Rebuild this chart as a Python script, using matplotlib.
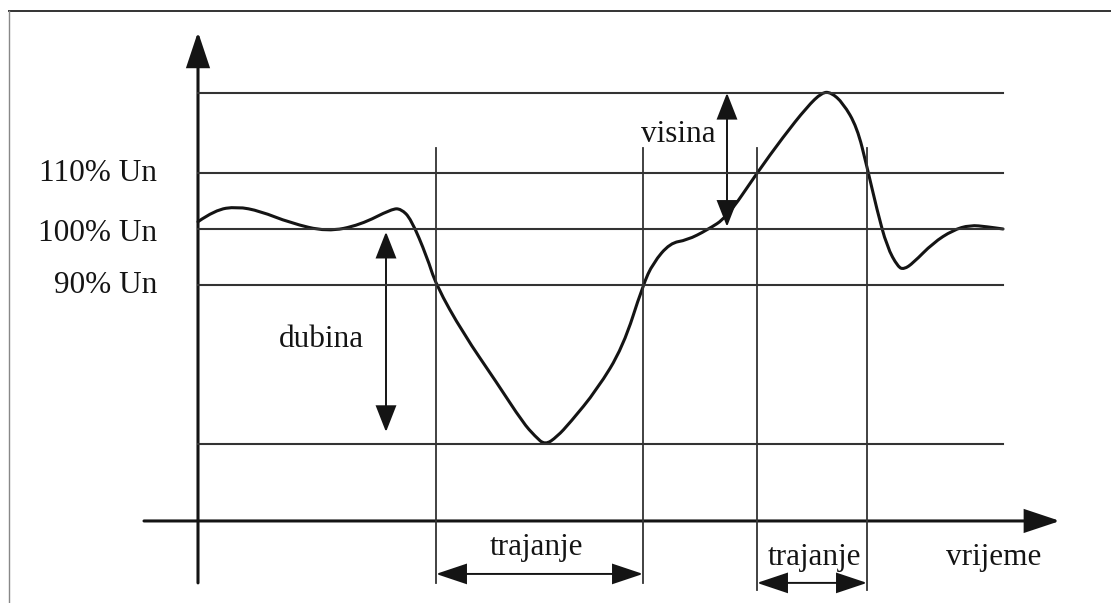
import matplotlib
matplotlib.use("Agg")
import matplotlib.pyplot as plt
from matplotlib.patches import FancyArrowPatch, PathPatch, ArrowStyle
from matplotlib.path import Path

# --- data: time in arbitrary units, voltage in % of Un ---
curve_t = [0.0, 1.7, 3.9, 6.2, 9.2, 12.9, 16.2, 19.4, 20.3, 21.3, 22.9, 23.8,
           26.5, 29.9, 32.5, 33.7, 34.7, 35.9, 37.2, 39.9, 42.5, 44.5,
           45.5, 47.2, 48.9, 50.9, 52.9, 55.9, 58.5, 60.9, 62.4, 63.3, 64.5,
           65.9, 66.9, 67.9, 68.9, 70.0, 70.6, 71.5, 73.5, 75.5, 77.2, 78.9, 80.5]
curve_v = [101.3, 103.4, 104.0, 103.2, 101.1, 99.5, 100.7, 103.6, 103.6, 101.8,
           95.0, 90.0, 81.4, 72.5, 65.4, 63.0, 61.4, 62.9, 65.4, 71.3,
           78.9, 90.0, 93.9, 97.5, 98.0, 99.8, 102.1, 110.0, 116.4, 121.8,
           124.4, 124.4, 122.5, 118.2, 111.1, 103.4, 96.8, 93.2, 92.8, 93.9,
           97.5, 99.8, 100.7, 100.4, 100.0]

level_v = [124.3, 110.0, 100.0, 90.0, 61.6]
level_labels = ["110% Un", "100% Un", "90% Un"]
label_v = [108.6, 97.9, 88.6]
sag_t = [23.8, 44.5]
swell_t = [55.9, 66.9]
depth = (18.8, 99.5, 63.75)    # t, from v, to v
height = (52.9, 124.3, 100.4)
t_end = 80.5

INK = "#141414"
FONT = dict(family="Liberation Serif", size=22.5, color=INK)

fig = plt.figure(figsize=(11.11, 6.03), dpi=100)
ax = fig.add_axes([0, 0, 1, 1])
ax.set_xlim(-19.8, 91.3)
ax.set_ylim(33.21, 140.89)
ax.axis("off")

# frame (top and left edges only visible)
ax.plot([-18.9, 91.3], [138.9, 138.9], color="#333", lw=1.4)
ax.plot([-18.9, -18.9], [33.21, 138.9], color="#888", lw=1.0)

# horizontal level lines
for v in level_v:
    ax.plot([0, t_end], [v, v], color="#333", lw=1.5)

# vertical duration lines
for t in sag_t:
    ax.plot([t, t], [114.5, 36.8], color="#333", lw=1.3)
for t in swell_t:
    ax.plot([t, t], [114.5, 35.6], color="#333", lw=1.3)


def arrow(p0, p1, style, hl, hw, lw):
    a = FancyArrowPatch(p0, p1, arrowstyle=ArrowStyle(style, head_length=hl, head_width=hw),
                        mutation_scale=1, shrinkA=0, shrinkB=0, color=INK, lw=lw,
                        joinstyle="miter")
    ax.add_patch(a)


# axes with arrows
arrow((0, 36.8), (0, 135.2), "-|>", 21.6, 7.2, 2.2)
arrow((-5.4, 47.86), (86.2, 47.86), "-|>", 21.6, 7.2, 2.2)

# depth / height arrows
arrow((depth[0], depth[1]), (depth[0], depth[2]), "<|-|>", 16.6, 6.5, 1.4)
arrow((height[0], height[1]), (height[0], height[2]), "<|-|>", 16.6, 6.5, 1.4)

# duration arrows
arrow((sag_t[0], 38.4), (sag_t[1], 38.4), "<|-|>", 19.4, 6.5, 1.4)
arrow((swell_t[0], 36.8), (swell_t[1], 36.8), "<|-|>", 19.4, 6.5, 1.4)

# smooth curve: quadratic B-spline through the read points
pts = list(zip(curve_t, curve_v))
verts = [pts[0]]
codes = [Path.MOVETO]
for i in range(1, len(pts) - 1):
    mid = ((pts[i][0] + pts[i + 1][0]) / 2, (pts[i][1] + pts[i + 1][1]) / 2)
    verts += [pts[i], mid]
    codes += [Path.CURVE3, Path.CURVE3]
verts.append(pts[-1])
codes.append(Path.LINETO)
ax.add_patch(PathPatch(Path(verts, codes), fill=False, lw=2.2, edgecolor=INK,
                       capstyle="round", joinstyle="round"))

# texts
for lab, v in zip(level_labels, label_v):
    ax.text(-4.1, v, lab, ha="right", va="baseline", **FONT)
ax.text(12.3, 78.9, "dubina", ha="center", va="baseline", **FONT)
ax.text(48.0, 115.5, "visina", ha="center", va="baseline", **FONT)
ax.text(33.9, 41.8, "trajanje", ha="center", va="baseline", **FONT)
ax.text(61.7, 40.0, "trajanje", ha="center", va="baseline", **FONT)
ax.text(79.6, 40.0, "vrijeme", ha="center", va="baseline", **FONT)

fig.savefig("out.png", dpi=100, facecolor="white")
